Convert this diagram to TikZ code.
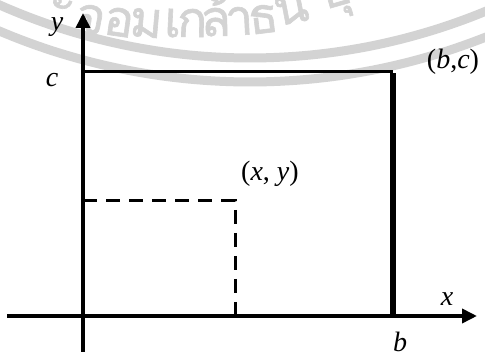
\documentclass[tikz,border=0pt]{standalone}
\usepackage{fontspec}
\setmainfont{Liberation Serif}
\newfontfamily\thaiwm[Script=Thai,FakeBold=1.2]{Loma}
\usetikzlibrary{arrows.meta}
\definecolor{wmgray}{HTML}{D3D3D3}
\begin{document}
\begin{tikzpicture}[x=1pt,y=-1pt,
  wm/.style={draw=wmgray,line width=9pt},
  wmtxt/.style={text=wmgray,font=\thaiwm\fontsize{50}{50}\selectfont,anchor=base,inner sep=0pt},
  axisline/.style={line width=3.6pt,-{Triangle[length=15pt,width=14pt]}},
  boxline/.style={line width=3pt},
  thickside/.style={line width=6pt},
  dashline/.style={line width=3pt,dash pattern=on 14pt off 9pt},
  lab/.style={font=\fontsize{28}{30}\selectfont,inner sep=0pt}]
\useasboundingbox (0,0) rectangle (485,352);
\clip (0,0) rectangle (485,352);
% watermark
\draw[wm] plot[domain=-30:30,samples=80] ({250+618*sin(\x)},{-560+618*cos(\x)});
\draw[wm] plot[domain=-30:30,samples=80] ({250+642*sin(\x)},{-560+642*cos(\x)});
\node[wmtxt,rotate=-18] (w0) at (60,10) {ะ};
\node[wmtxt,rotate=-11] (w1) at (88,33) {จ};
\node[wmtxt,rotate=-8] (w2) at (117,36) {อ};
\node[wmtxt,rotate=-5] (w3) at (145,37) {ม};
\node[wmtxt,rotate=-3] (w4) at (172,37) {เ};
\node[wmtxt,rotate=-1] (w5) at (192,37) {ก};
\node[wmtxt,rotate=1] (w6) at (216,36) {ล้};
\node[wmtxt,rotate=3] (w7) at (240,35) {า};
\node[wmtxt,rotate=7] (w8) at (265,33) {ธ};
\node[wmtxt,rotate=11] (w9) at (294,23) {น};
\node[wmtxt,rotate=16] (w10) at (338,6) {บุ};
% coordinates
\coordinate (O) at (83,316);
\coordinate (ybot) at (83,352);
\coordinate (ytip) at (83,13);
\coordinate (xstart) at (7,316);
\coordinate (xtip) at (477,316);
\coordinate (C) at (83,72);
\coordinate (BC) at (393,72);
\coordinate (B) at (393,316);
\coordinate (P) at (235,201);
\coordinate (Py) at (83,201);
\coordinate (Px) at (235,316);
% rectangle
\draw[boxline] (C) -- (BC);
\draw[thickside] ([yshift=-1.5pt]BC) -- (B);
% dashed
\draw[dashline] (Py) -- (P) -- (Px);
% axes
\draw[axisline] (xstart) -- (xtip);
\draw[axisline] (ybot) -- (ytip);
% labels
\node[lab] (ly) at (57,27) {\textit{y}};
\node[lab] (lc) at (52,80) {\textit{c}};
\node[lab] (lbc) at (453,62) {(\textit{b},\textit{c})};
\node[lab] (lxy) at (270,174) {(\textit{x}, \textit{y})};
\node[lab] (lx) at (447,299) {\textit{x}};
\node[lab] (lb) at (400,342) {\textit{b}};
\end{tikzpicture}
\end{document}
